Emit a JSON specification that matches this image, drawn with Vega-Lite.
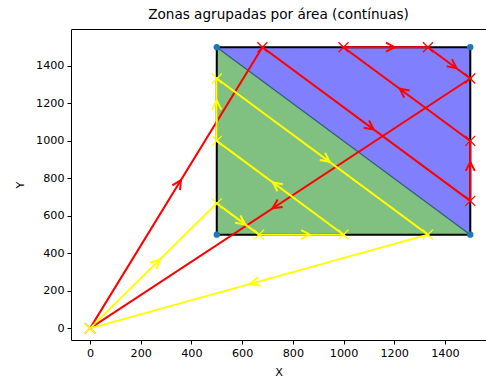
{
  "$schema": "https://vega.github.io/schema/vega-lite/v6.json",
  "width": 415,
  "height": 311,
  "autosize": {"type": "none"},
  "padding": {"left": 71, "top": 29, "right": 0, "bottom": 38},
  "background": "white",
  "title": {"text": "Zonas agrupadas por área (contínuas)", "font": "DejaVu Sans", "fontSize": 13.6, "fontWeight": "normal", "color": "#000", "anchor": "middle", "offset": 7},
  "config": {
    "view": {"stroke": null},
    "axis": {"grid": false, "domainColor": "#000", "domainWidth": 1, "tickColor": "#000", "tickSize": 4, "tickWidth": 1, "labelFont": "DejaVu Sans", "labelFontSize": 11.2, "labelColor": "#000", "titleFont": "DejaVu Sans", "titleFontSize": 11.2, "titleFontWeight": "normal", "titleColor": "#000", "labelPadding": 3, "format": "d"}
  },
  "datasets": {
    "zones": [
      {"x": 500, "top": 1500, "diag": 1500, "bottom": 500},
      {"x": 1500, "top": 1500, "diag": 500, "bottom": 500}
    ],
    "square": [{"x": 500, "x2": 1500, "y": 500, "y2": 1500}],
    "paths": [
      {"s": "red", "i": 0, "x": 0, "y": 0},
      {"s": "red", "i": 1, "x": 680, "y": 1500},
      {"s": "red", "i": 2, "x": 1500, "y": 680},
      {"s": "red", "i": 3, "x": 1500, "y": 1000},
      {"s": "red", "i": 4, "x": 1000, "y": 1500},
      {"s": "red", "i": 5, "x": 1333, "y": 1500},
      {"s": "red", "i": 6, "x": 1500, "y": 1333},
      {"s": "red", "i": 7, "x": 0, "y": 0},
      {"s": "yellow", "i": 0, "x": 0, "y": 0},
      {"s": "yellow", "i": 1, "x": 500, "y": 667},
      {"s": "yellow", "i": 2, "x": 667, "y": 500},
      {"s": "yellow", "i": 3, "x": 1000, "y": 500},
      {"s": "yellow", "i": 4, "x": 500, "y": 1000},
      {"s": "yellow", "i": 5, "x": 500, "y": 1333},
      {"s": "yellow", "i": 6, "x": 1333, "y": 500},
      {"s": "yellow", "i": 7, "x": 0, "y": 0}
    ],
    "arrows": [
      {"s": "red", "x": 340, "y": 750, "dx": 680, "dy": 1500},
      {"s": "red", "x": 1090, "y": 1090, "dx": 820, "dy": -820},
      {"s": "red", "x": 1500, "y": 840, "dx": 0, "dy": 320},
      {"s": "red", "x": 1250, "y": 1250, "dx": -500, "dy": 500},
      {"s": "red", "x": 1167, "y": 1500, "dx": 333, "dy": 0},
      {"s": "red", "x": 1417, "y": 1417, "dx": 167, "dy": -167},
      {"s": "red", "x": 750, "y": 667, "dx": -1500, "dy": -1333},
      {"s": "yellow", "x": 250, "y": 333, "dx": 500, "dy": 667},
      {"s": "yellow", "x": 583, "y": 583, "dx": 167, "dy": -167},
      {"s": "yellow", "x": 833, "y": 500, "dx": 333, "dy": 0},
      {"s": "yellow", "x": 750, "y": 750, "dx": -500, "dy": 500},
      {"s": "yellow", "x": 500, "y": 1167, "dx": 0, "dy": 333},
      {"s": "yellow", "x": 917, "y": 917, "dx": 833, "dy": -833},
      {"s": "yellow", "x": 667, "y": 250, "dx": -1333, "dy": -500}
    ],
    "corners": [
      {"x": 500, "y": 500},
      {"x": 500, "y": 1500},
      {"x": 1500, "y": 1500},
      {"x": 1500, "y": 500}
    ]
  },
  "resolve": {"axis": {"x": "independent", "y": "independent"}},
  "layer": [
    {
      "data": {"name": "zones"},
      "mark": {"type": "area", "color": "#8080ff", "opacity": 1},
      "encoding": {
        "x": {"field": "x", "type": "quantitative", "scale": {"domain": [-75, 1562], "nice": false, "zero": false}, "axis": {"orient": "bottom", "title": "X", "values": [0, 200, 400, 600, 800, 1000, 1200, 1400], "titlePadding": 8}},
        "y": {"field": "top", "type": "quantitative", "scale": {"domain": [-62, 1597], "nice": false, "zero": false}, "axis": {"orient": "left", "title": "Y", "values": [0, 200, 400, 600, 800, 1000, 1200, 1400], "titlePadding": 10}},
        "y2": {"field": "diag"}
      }
    },
    {
      "data": {"name": "zones"},
      "mark": {"type": "area", "color": "#80c080", "opacity": 1},
      "encoding": {
        "x": {"field": "x", "type": "quantitative", "scale": {"domain": [-75, 1562], "nice": false, "zero": false}, "axis": {"orient": "top", "labels": false, "ticks": false, "title": null}},
        "y": {"field": "diag", "type": "quantitative", "scale": {"domain": [-62, 1597], "nice": false, "zero": false}, "axis": null},
        "y2": {"field": "bottom"}
      }
    },
    {
      "data": {"name": "zones"},
      "mark": {"type": "line", "color": "#2a5f78", "strokeWidth": 1.2},
      "encoding": {
        "x": {"field": "x", "type": "quantitative", "scale": {"domain": [-75, 1562], "nice": false, "zero": false}, "axis": null},
        "y": {"field": "diag", "type": "quantitative", "scale": {"domain": [-62, 1597], "nice": false, "zero": false}, "axis": null}
      }
    },
    {
      "data": {"name": "square"},
      "mark": {"type": "rect", "fillOpacity": 0, "stroke": "#000", "strokeWidth": 2},
      "encoding": {
        "x": {"field": "x", "type": "quantitative", "scale": {"domain": [-75, 1562], "nice": false, "zero": false}, "axis": null},
        "x2": {"field": "x2"},
        "y": {"field": "y", "type": "quantitative", "scale": {"domain": [-62, 1597], "nice": false, "zero": false}, "axis": null},
        "y2": {"field": "y2"}
      }
    },
    {
      "data": {"name": "paths"},
      "mark": {"type": "line", "strokeWidth": 2},
      "encoding": {
        "x": {"field": "x", "type": "quantitative", "scale": {"domain": [-75, 1562], "nice": false, "zero": false}, "axis": null},
        "y": {"field": "y", "type": "quantitative", "scale": {"domain": [-62, 1597], "nice": false, "zero": false}, "axis": null},
        "order": {"field": "i", "type": "quantitative"},
        "color": {"field": "s", "type": "nominal", "scale": {"domain": ["red", "yellow"], "range": ["#ff0000", "#ffff00"]}, "legend": null}
      }
    },
    {
      "data": {"name": "paths"},
      "mark": {"type": "point", "shape": "M-1,-1L1,1M-1,1L1,-1", "filled": false, "size": 100, "strokeWidth": 1.3, "opacity": 1},
      "encoding": {
        "x": {"field": "x", "type": "quantitative", "scale": {"domain": [-75, 1562], "nice": false, "zero": false}, "axis": null},
        "y": {"field": "y", "type": "quantitative", "scale": {"domain": [-62, 1597], "nice": false, "zero": false}, "axis": null},
        "color": {"field": "s", "type": "nominal", "scale": {"domain": ["red", "yellow"], "range": ["#ff0000", "#ffff00"]}, "legend": null}
      }
    },
    {
      "data": {"name": "arrows"},
      "transform": [{"calculate": "atan2(datum.dx * 1.352, datum.dy) * 180 / PI", "as": "ang"}],
      "mark": {"type": "point", "shape": "M-0.5,0L0,-1L0.5,0", "filled": false, "size": 324, "strokeWidth": 2, "opacity": 1},
      "encoding": {
        "x": {"field": "x", "type": "quantitative", "scale": {"domain": [-75, 1562], "nice": false, "zero": false}, "axis": null},
        "y": {"field": "y", "type": "quantitative", "scale": {"domain": [-62, 1597], "nice": false, "zero": false}, "axis": null},
        "angle": {"field": "ang", "type": "quantitative", "scale": null},
        "color": {"field": "s", "type": "nominal", "scale": {"domain": ["red", "yellow"], "range": ["#ff0000", "#ffff00"]}, "legend": null}
      }
    },
    {
      "data": {"name": "corners"},
      "mark": {"type": "point", "shape": "circle", "filled": true, "size": 40, "color": "#1f77b4", "opacity": 1},
      "encoding": {
        "x": {"field": "x", "type": "quantitative", "scale": {"domain": [-75, 1562], "nice": false, "zero": false}, "axis": null},
        "y": {"field": "y", "type": "quantitative", "scale": {"domain": [-62, 1597], "nice": false, "zero": false}, "axis": null}
      }
    }
  ]
}
